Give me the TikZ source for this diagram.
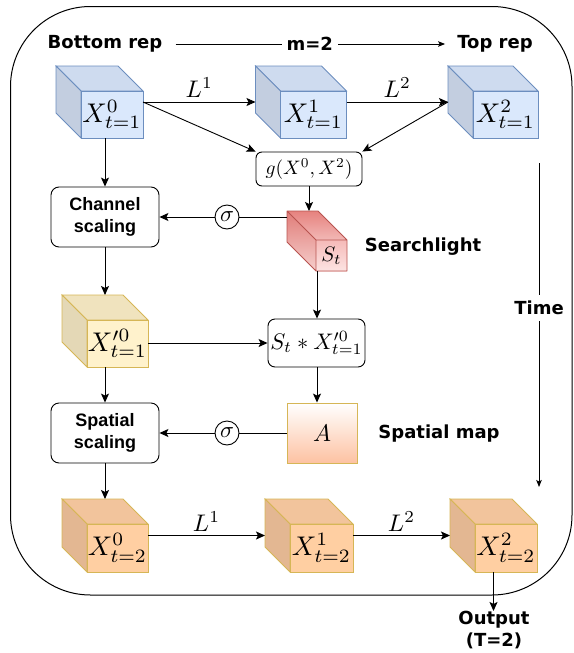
\documentclass[tikz,border=0pt]{standalone}
\usepackage{graphicx}
\usepackage{fontspec}
\newfontfamily\dvsans{DejaVu Sans}
\newfontfamily\lisans{Liberation Sans}
\usetikzlibrary{arrows.meta,calc}
\definecolor{blF}{HTML}{DAE8FC}
\definecolor{blT}{HTML}{CEDBEF}
\definecolor{blS}{HTML}{C3CEE0}
\definecolor{blB}{HTML}{6C8EBF}
\definecolor{yeF}{HTML}{FFF2CC}
\definecolor{yeT}{HTML}{F0E3BE}
\definecolor{yeS}{HTML}{E4D8B6}
\definecolor{yeB}{HTML}{D6B656}
\definecolor{orF}{HTML}{FFCFA2}
\definecolor{orT}{HTML}{F2C49C}
\definecolor{orS}{HTML}{E3B792}
\definecolor{orB}{HTML}{D6B656}
\definecolor{rdB}{HTML}{B85450}
\definecolor{rdT1}{HTML}{E6827E}
\definecolor{rdT2}{HTML}{F2B8B6}
\definecolor{rdS1}{HTML}{E07C78}
\definecolor{rdS2}{HTML}{F6CFCD}
\definecolor{rdF1}{HTML}{F5BAB8}
\definecolor{rdF2}{HTML}{FDE4E3}
\definecolor{apk}{HTML}{FDC2A2}
\newcommand\mymath[2]{\scalebox{#1}{$#2$}}
\newcommand\drawcube[8]{%
  \node[minimum width=#4, minimum height=#5, inner sep=0pt, outer sep=0pt] (#1) at (#2,#3) {};
  \coordinate (#1-fnw) at ($(#1.north west)+(#6,#6)$);
  \filldraw[fill=#7T, draw=#7B, line width=0.8pt] (#1.north west) -- ($(#1.north east)+(-#6,0)$) -- ($(#1.north east)+(0,#6)$) -- (#1-fnw) -- cycle;
  \filldraw[fill=#7S, draw=#7B, line width=0.8pt] (#1.north west) -- (#1-fnw) -- ($(#1.south west)+(#6,0)$) -- ($(#1.south west)+(0,-#6)$) -- cycle;
  \filldraw[fill=#7F, draw=#7B, line width=0.8pt] (#1-fnw) rectangle (#1.south east);
  \node[inner sep=0pt] (#1-lab) at ($(#1-fnw)!0.5!(#1.south east)$) {\mymath{2.7}{#8}};
}
\tikzset{
  arr/.style={-{Stealth[length=9pt,width=8pt,inset=2pt]}},
  sarr/.style={-{Stealth[length=7pt,width=5.5pt,inset=1.5pt]}},
  conn/.style={line width=0.9pt},
  rbox/.style={draw, line width=0.9pt, rounded corners=8pt, align=center, inner sep=0pt,
     font=\lisans\bfseries\fontsize{18}{21.5}\selectfont},
  sig/.style={draw, circle, line width=0.9pt, minimum size=24pt, inner sep=0pt, fill=white},
  hdr/.style={font=\dvsans\bfseries\fontsize{18}{21}\selectfont, inner sep=0pt},
  lbl/.style={inner sep=0pt},
}
\begin{document}
\begin{tikzpicture}[x=1pt,y=-1pt]
\useasboundingbox (0,0) rectangle (573,653);
% outer frame
\draw[line width=1pt, rounded corners=80pt] (10.5,6.5) rectangle (572,595);

% header
\node[hdr] (br) at (105,44) {Bottom rep};
\node[hdr] (tr) at (495,44) {Top rep};
\draw[conn, sarr, shorten <=13pt, shorten >=12pt] (br.east) -- node[fill=white, hdr, inner xsep=5pt, inner ysep=2pt] (m2) {m=2} (tr.west);

% cubes top row
\drawcube{xa0}{99.5}{102}{87}{72}{25}{bl}{X^0_{t=1}}
\drawcube{xa1}{301}{102}{91}{72}{25}{bl}{X^1_{t=1}}
\drawcube{xa2}{493}{102}{90}{72}{25}{bl}{X^2_{t=1}}
% second chain
\drawcube{xp}{105}{331}{86}{72}{25}{ye}{X'^0_{t=1}}
\drawcube{xb0}{105}{535.5}{86}{73}{25}{or}{X^0_{t=2}}
\drawcube{xb1}{309}{535.5}{88}{73}{25}{or}{X^1_{t=2}}
\drawcube{xb2}{493.5}{535.5}{87}{73}{25}{or}{X^2_{t=2}}

% searchlight cuboid
\node[minimum width=60, minimum height=60, inner sep=0pt, outer sep=0pt] (st) at (317,241) {};
\coordinate (st-fnw) at ($(st.north west)+(29,29)$);
\shade[top color=rdT1, bottom color=rdT2] (st.north west) -- ($(st.north east)+(-29,0)$) -- ($(st.north east)+(0,29)$) -- (st-fnw) -- cycle;
\shade[top color=rdS1, bottom color=rdS2] (st.north west) -- (st-fnw) -- ($(st.south west)+(29,0)$) -- ($(st.south west)+(0,-29)$) -- cycle;
\shade[top color=rdF1, bottom color=rdF2] (st-fnw) rectangle (st.south east);
\draw[draw=rdB, line width=0.8pt, line join=round] (st.north west) -- ($(st.north east)+(-29,0)$) -- ($(st.north east)+(0,29)$) -- (st.south east) -- ($(st.south west)+(29,0)$) -- ($(st.south west)+(0,-29)$) -- cycle
  (st.north west) -- (st-fnw) -- ($(st.north east)+(0,29)$) (st-fnw) -- ($(st.south west)+(29,0)$);
\node[inner sep=0pt] (st-lab) at ($(st-fnw)!0.5!(st.south east)$) {\mymath{2.1}{S_t}};

% boxes
\node[rbox, minimum width=108, minimum height=60] (cs) at (105,217) {Channel\\scaling};
\node[rbox, minimum width=108, minimum height=60] (ss) at (105,433) {Spatial\\scaling};
\node[draw, line width=0.9pt, rounded corners=6pt, minimum width=106, minimum height=34, inner sep=0pt] (g) at (309,169) {\mymath{1.95}{g(X^0,X^2)}};
\node[draw, line width=0.9pt, rounded corners=7pt, minimum width=97, minimum height=48, inner sep=0pt] (sx) at (316.5,343) {\mymath{2.25}{S_t * X'^0_{t=1}}};
\node[draw=orB, line width=0.9pt, top color=white, bottom color=apk, minimum width=70, minimum height=60,
      inner sep=0pt] (A) at (322,433) {\mymath{2.4}{A}};
\node[sig] (sig1) at (227,217) {\mymath{2.3}{\sigma}};
\node[sig] (sig2) at (227,433) {\mymath{2.3}{\sigma}};

% side labels
\node[hdr] (lsl) at (423,247) {Searchlight};
\node[hdr] (lsm) at (439,434) {Spatial map};

% connectors
\draw[conn, arr] (xa0.east) -- node[lbl, above=4pt] (l1) {\mymath{2.4}{L^1}} (xa1.west);
\draw[conn, arr] (xa1.east) -- node[lbl, above=4pt] (l2) {\mymath{2.4}{L^2}} (xa2.west);
\draw[conn, arr] (xa0.east) -- (g.north west);
\draw[conn, arr] (xa2.west) -- (g.north east);
\draw[conn, arr] (g.south) -- (g.south |- st.north);
\draw[conn, arr] (cs.north |- xa0.south) -- (cs.north);
\draw[conn] (st.west |- cs.east) -- (sig1);
\draw[conn, arr] (sig1) -- (cs.east);
\draw[conn, arr] (st.south) -- (st.south |- sx.north);
\draw[conn, arr] (cs.south) -- (cs.south |- xp.north);
\draw[conn, arr] (xp.east |- sx.west) -- (sx.west);
\draw[conn, arr] (ss.north |- xp.south) -- (ss.north);
\draw[conn, arr] (sx.south -| st.south) -- (st.south |- A.north);
\draw[conn] (A.west) -- (sig2);
\draw[conn, arr] (sig2) -- (ss.east);
\draw[conn, arr] (ss.south) -- (ss.south |- xb0.north);
\draw[conn, arr] (xb0.east) -- node[lbl, above=4pt] (l3) {\mymath{2.4}{L^1}} (xb1.west);
\draw[conn, arr] (xb1.east) -- node[lbl, above=4pt] (l4) {\mymath{2.4}{L^2}} (xb2.west);

% time
\coordinate (t1) at (539,163);
\coordinate (t2) at (539,487);
\draw[conn, sarr] (t1) -- node[pos=0.447, fill=white, hdr, inner xsep=0pt, inner ysep=6pt] (tm) {Time} (t2);

% output
\node[hdr, align=center, anchor=north, font=\dvsans\bfseries\fontsize{18}{22}\selectfont] (out) at (494,611) {Output\\(T=2)};
\draw[conn, arr] (xb2.south) -- (xb2.south |- out.north);
\end{tikzpicture}
\end{document}
